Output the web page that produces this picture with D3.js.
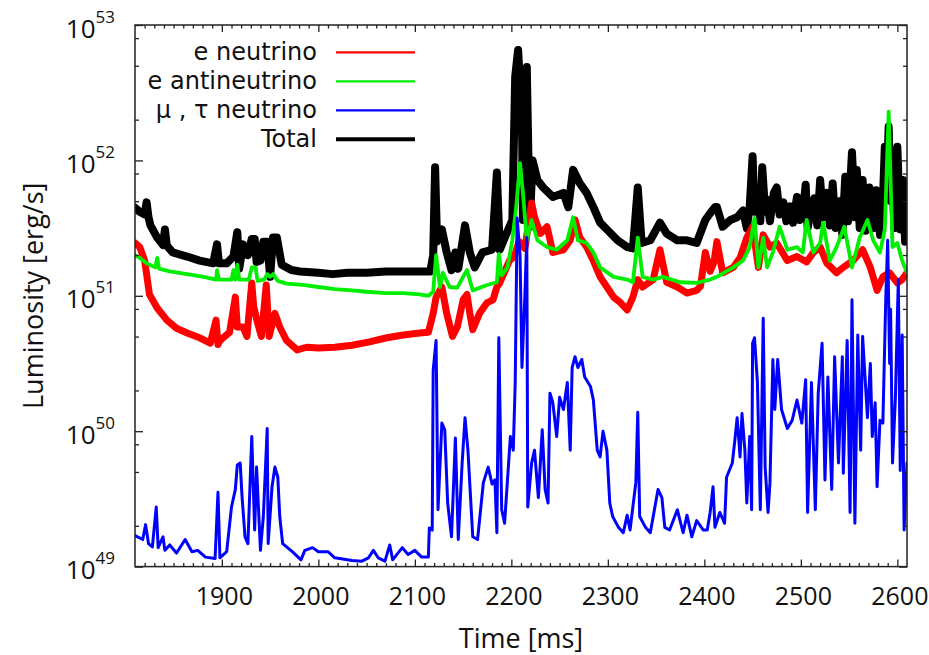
<!DOCTYPE html>
<html>
<head>
<meta charset="utf-8">
<script src="https://cdn.jsdelivr.net/npm/d3@7"></script>
<style>
body{margin:0;background:#fff;}
text{font-family:"Open Sans",sans-serif;fill:#111;}
</style>
</head>
<body>
<div id="canvas"></div>
<script>
// data: [time in ms, log10 of luminosity in erg/s]
var totalPts = [[1810,51.65],[1815,51.62],[1820,51.60],[1822,51.69],[1824,51.58],[1826,51.52],[1833,51.43],[1839,51.375],[1841,51.49],[1843,51.37],[1849,51.32],[1864,51.29],[1877,51.26],[1891,51.24],[1895,51.38],[1897,51.24],[1905,51.24],[1912,51.29],[1916,51.47],[1918,51.20],[1922,51.38],[1927,51.30],[1931,51.42],[1934,51.42],[1936,51.25],[1940,51.26],[1943,51.40],[1947,51.40],[1950,51.14],[1953,51.43],[1957,51.43],[1962,51.23],[1972,51.19],[1981,51.18],[2000,51.17],[2015,51.16],[2030,51.17],[2050,51.17],[2070,51.18],[2085,51.18],[2100,51.18],[2116,51.18],[2119,51.30],[2121,51.95],[2123,51.40],[2128,51.49],[2133,51.32],[2138,51.19],[2142,51.32],[2145,51.20],[2152,51.52],[2157,51.32],[2162,51.21],[2170,51.32],[2180,51.34],[2185,51.91],[2188,51.34],[2195,51.46],[2201,51.56],[2204,52.62],[2207,52.815],[2211,52.30],[2212,51.56],[2216,52.69],[2219,51.51],[2222,52.0],[2227,51.855],[2233,51.80],[2243,51.73],[2254,51.76],[2259,51.655],[2264,51.93],[2271,51.83],[2278,51.76],[2285,51.655],[2292,51.54],[2299,51.49],[2310,51.41],[2320,51.36],[2326,51.35],[2331,51.80],[2335,51.39],[2344,51.41],[2354,51.54],[2361,51.46],[2372,51.41],[2382,51.41],[2392,51.39],[2401,51.56],[2406,51.61],[2411,51.655],[2413,51.655],[2419,51.51],[2427,51.56],[2434,51.58],[2440,51.63],[2444,51.50],[2447,51.66],[2450,52.03],[2452,51.62],[2456,51.78],[2458,51.55],[2460,51.95],[2463,51.62],[2465,51.71],[2468,51.55],[2472,51.76],[2475,51.80],[2478,51.60],[2482,51.69],[2485,51.55],[2489,51.66],[2492,51.54],[2496,51.73],[2499,51.56],[2502,51.61],[2505,51.82],[2507,51.50],[2510,51.61],[2514,51.72],[2517,51.52],[2520,51.855],[2523,51.58],[2527,51.76],[2530,51.52],[2533,51.83],[2536,51.50],[2541,51.70],[2543,51.45],[2546,51.88],[2549,51.55],[2553,52.06],[2556,51.58],[2558,51.93],[2561,51.50],[2564,51.855],[2567,51.48],[2571,51.80],[2575,51.50],[2578,51.78],[2582,51.45],[2585,51.70],[2587,52.10],[2589,51.80],[2591,52.25],[2593,51.70],[2595,51.855],[2597,51.50],[2600,52.10],[2603,51.49],[2606,51.855],[2608,51.40],[2610,51.66]];

var nuePts = [[1810,51.39],[1815,51.36],[1820,51.26],[1825,51.01],[1833,50.91],[1843,50.82],[1853,50.76],[1864,50.725],[1877,50.69],[1888,50.65],[1894,50.82],[1896,50.64],[1898,50.67],[1908,50.73],[1914,50.99],[1916,50.77],[1922,50.77],[1926,50.70],[1931,51.095],[1933,50.92],[1937,50.80],[1941,50.70],[1946,51.08],[1949,50.70],[1955,50.87],[1960,50.77],[1967,50.67],[1978,50.60],[1988,50.62],[2000,50.615],[2017,50.62],[2035,50.635],[2053,50.66],[2071,50.69],[2088,50.71],[2105,50.725],[2114,50.73],[2119,50.87],[2122,50.99],[2128,51.065],[2133,50.87],[2139,50.70],[2144,50.77],[2150,50.97],[2154,51.01],[2157,50.87],[2160,50.75],[2167,50.87],[2175,50.95],[2181,50.97],[2185,51.065],[2188,51.095],[2195,51.21],[2198,51.26],[2203,51.29],[2208,51.40],[2214,51.35],[2221,51.685],[2224,51.58],[2230,51.46],[2237,51.51],[2243,51.32],[2254,51.34],[2261,51.41],[2266,51.56],[2271,51.43],[2278,51.36],[2285,51.26],[2292,51.14],[2299,51.065],[2306,50.99],[2313,50.95],[2320,50.895],[2326,50.99],[2331,51.12],[2336,51.065],[2347,51.12],[2354,51.34],[2361,51.10],[2372,51.065],[2382,51.02],[2392,51.04],[2396,51.07],[2401,51.32],[2406,51.18],[2410,51.25],[2413,51.40],[2419,51.17],[2430,51.21],[2437,51.28],[2444,51.43],[2450,51.51],[2456,51.21],[2461,51.45],[2468,51.36],[2475,51.39],[2486,51.26],[2496,51.29],[2506,51.25],[2513,51.32],[2520,51.36],[2527,51.24],[2537,51.17],[2544,51.21],[2554,51.26],[2564,51.34],[2572,51.21],[2579,51.04],[2585,51.14],[2592,51.17],[2600,51.095],[2605,51.12],[2610,51.17]];

var anuePts = [[1810,51.30],[1815,51.28],[1822,51.24],[1831,51.21],[1833,51.28],[1835,51.20],[1846,51.18],[1864,51.16],[1881,51.14],[1894,51.12],[1895,51.19],[1897,51.12],[1910,51.12],[1912,51.19],[1914,51.12],[1916,51.23],[1918,51.12],[1928,51.12],[1931,51.21],[1935,51.21],[1937,51.11],[1944,51.12],[1947,51.16],[1950,51.14],[1953,51.16],[1958,51.11],[1967,51.09],[1984,51.08],[2000,51.065],[2017,51.05],[2035,51.04],[2050,51.03],[2070,51.02],[2088,51.02],[2105,51.01],[2114,51.0],[2119,51.03],[2122,51.30],[2126,51.065],[2129,51.17],[2136,51.065],[2144,51.06],[2150,51.14],[2154,51.19],[2160,51.04],[2175,51.08],[2185,51.10],[2187,51.31],[2190,51.15],[2196,51.21],[2201,51.41],[2205,51.655],[2209,51.98],[2212,51.76],[2216,51.41],[2221,51.56],[2227,51.41],[2237,51.36],[2247,51.34],[2258,51.41],[2264,51.58],[2269,51.41],[2278,51.39],[2285,51.32],[2292,51.21],[2306,51.14],[2320,51.12],[2326,51.10],[2331,51.43],[2336,51.14],[2347,51.12],[2357,51.14],[2375,51.10],[2392,51.095],[2406,51.12],[2413,51.14],[2430,51.21],[2440,51.26],[2447,51.36],[2452,51.575],[2456,51.21],[2461,51.43],[2465,51.21],[2471,51.32],[2478,51.51],[2486,51.34],[2496,51.36],[2502,51.32],[2506,51.56],[2513,51.32],[2520,51.39],[2523,51.54],[2530,51.26],[2537,51.36],[2545,51.51],[2553,51.21],[2561,51.43],[2569,51.56],[2575,51.41],[2582,51.32],[2587,51.49],[2591,52.36],[2595,51.36],[2600,51.39],[2605,51.26],[2610,51.17]];

var numuPts = [[1810,49.23],[1818,49.20],[1821,49.31],[1824,49.17],[1828,49.145],[1832,49.44],[1834,49.14],[1839,49.22],[1841,49.12],[1846,49.16],[1853,49.10],[1862,49.20],[1869,49.11],[1875,49.12],[1883,49.07],[1893,49.06],[1896,49.55],[1898,49.065],[1905,49.11],[1910,49.44],[1914,49.57],[1916,49.75],[1919,49.765],[1921,49.51],[1924,49.22],[1927,49.17],[1931,49.96],[1934,49.27],[1936,49.735],[1940,49.12],[1943,49.37],[1947,50.02],[1948,49.17],[1952,49.59],[1955,49.735],[1958,49.66],[1960,49.37],[1963,49.17],[1973,49.11],[1982,49.05],[1986,49.12],[1994,49.14],[2000,49.11],[2010,49.11],[2017,49.065],[2035,49.045],[2045,49.04],[2052,49.065],[2057,49.12],[2062,49.065],[2069,49.04],[2074,49.16],[2077,49.05],[2087,49.14],[2093,49.09],[2100,49.12],[2107,49.07],[2114,49.07],[2115,49.285],[2118,49.27],[2119,50.45],[2122,50.67],[2124,49.42],[2128,50.06],[2131,50.01],[2134,49.47],[2138,49.22],[2142,49.95],[2145,49.20],[2149,49.765],[2152,50.10],[2155,49.86],[2160,49.22],[2165,49.20],[2171,49.62],[2176,49.735],[2180,49.61],[2183,49.64],[2185,49.25],[2187,50.69],[2190,49.42],[2193,49.32],[2199,49.96],[2202,49.86],[2204,50.36],[2206,51.575],[2209,51.3],[2211,50.47],[2214,51.0],[2216,51.43],[2217,49.44],[2221,49.765],[2224,49.86],[2228,49.51],[2232,50.01],[2235,49.57],[2238,49.47],[2240,50.28],[2243,50.21],[2247,49.96],[2250,50.25],[2254,50.16],[2258,50.36],[2261,49.86],[2263,50.47],[2266,50.55],[2269,50.47],[2273,50.53],[2276,50.40],[2282,50.33],[2285,50.23],[2289,49.86],[2292,49.81],[2295,50.0],[2299,49.86],[2302,49.47],[2305,49.37],[2311,49.29],[2316,49.25],[2320,49.38],[2323,49.27],[2329,49.62],[2331,50.14],[2333,49.37],[2339,49.29],[2344,49.25],[2347,49.37],[2352,49.57],[2356,49.51],[2359,49.29],[2364,49.27],[2372,49.42],[2378,49.25],[2382,49.38],[2387,49.22],[2392,49.34],[2399,49.27],[2403,49.27],[2406,49.40],[2409,49.59],[2411,49.29],[2416,49.40],[2421,49.32],[2423,49.66],[2429,49.765],[2432,49.96],[2434,50.10],[2437,49.81],[2439,50.13],[2442,49.86],[2444,49.47],[2447,49.96],[2449,49.42],[2450,50.65],[2452,50.69],[2455,50.36],[2458,49.42],[2461,50.835],[2463,49.735],[2466,49.40],[2468,49.62],[2471,50.53],[2473,50.16],[2476,50.53],[2480,50.16],[2486,50.02],[2491,50.08],[2496,50.23],[2501,50.06],[2505,50.38],[2507,49.40],[2511,50.36],[2515,49.42],[2518,50.28],[2522,50.65],[2525,49.64],[2528,50.40],[2532,49.57],[2535,50.55],[2539,49.765],[2543,50.55],[2544,49.69],[2548,50.67],[2551,49.40],[2553,50.97],[2556,49.32],[2559,50.71],[2562,49.86],[2564,50.70],[2569,50.10],[2572,50.50],[2574,49.96],[2577,50.21],[2579,49.59],[2582,50.08],[2585,50.06],[2588,50.98],[2590,51.41],[2592,50.5],[2593,50.9],[2595,49.765],[2598,50.25],[2601,51.12],[2603,49.71],[2605,50.71],[2607,49.27],[2610,49.765]];

var seriesNames = ['e neutrino', 'e antineutrino', '\u03bc , \u03c4 neutrino', 'Total'];
var seriesColors = ['#ff0000', '#00ee00', '#0000ff', '#000000'];
var xTicks = [1900, 2000, 2100, 2200, 2300, 2400, 2500, 2600];
var yTicks = [49, 50, 51, 52, 53];

//margin convention
var W = 929, H = 655;
var m = {t:25, r:22, b:88.4, l:135};
var w = W - m.l - m.r,
    h = H - m.t - m.b;

var svg = d3.select('#canvas')
    .append('svg')
    .attr('width', W)
    .attr('height', H);

var plot = svg.append('g')
    .attr('transform', 'translate(' + m.l + ',' + m.t + ')');

var scaleX = d3.scaleLinear().domain([1810, 2610]).range([0, w]);
var scaleY = d3.scaleLog().domain([1e49, 1e53]).range([h, 0]);

plot.append('clipPath').attr('id', 'clip')
  .append('rect').attr('width', w).attr('height', h);

var line = d3.line()
  .x(function(d){ return scaleX(d[0]); })
  .y(function(d){ return scaleY(Math.pow(10, d[1])); });

//draw order: total at the back, mu/tau on top
var layers = [
  {pts: totalPts, color: seriesColors[3], width: 8},
  {pts: nuePts, color: seriesColors[0], width: 7},
  {pts: anuePts, color: seriesColors[1], width: 3.8},
  {pts: numuPts, color: seriesColors[2], width: 3}
];

plot.append('g').attr('clip-path', 'url(#clip)')
  .selectAll('path')
  .data(layers)
  .enter()
  .append('path')
  .attr('d', function(d){ return line(d.pts); })
  .attr('fill', 'none')
  .attr('stroke', function(d){ return d.color; })
  .attr('stroke-width', function(d){ return d.width; })
  .attr('stroke-linejoin', 'round')
  .attr('stroke-linecap', 'round');

//minor tick values
var xMinor = d3.range(1820, 2610, 10).filter(function(v){ return v % 100 !== 0; });
var yMinor = [];
yTicks.slice(0, -1).forEach(function(e){
  [2, 5, 8].forEach(function(k){ yMinor.push(k * Math.pow(10, e)); });
});
var yMajor = yTicks.map(function(e){ return Math.pow(10, e); });

function noDomain(g){ g.select('.domain').remove(); g.selectAll('line').attr('stroke', '#222').attr('stroke-width', 1.3); }

//bottom axis
var axisX = d3.axisBottom(scaleX).tickValues(xTicks).tickSize(-7).tickPadding(21).tickFormat(d3.format('d'));
var gx = plot.append('g').attr('transform', 'translate(0,' + h + ')').call(axisX).call(noDomain);
gx.selectAll('text').attr('font-size', 25).attr('font-family', '"Open Sans",sans-serif').attr('fill', '#111').attr('dx', 2);
plot.append('g').attr('transform', 'translate(0,' + h + ')')
  .call(d3.axisBottom(scaleX).tickValues(xMinor).tickSize(-3.5).tickFormat('')).call(noDomain);

//top axis
plot.append('g').call(d3.axisTop(scaleX).tickValues(xTicks).tickSize(-7).tickFormat('')).call(noDomain);
plot.append('g').call(d3.axisTop(scaleX).tickValues(xMinor).tickSize(-3.5).tickFormat('')).call(noDomain);

//left axis
var gy = plot.append('g').call(d3.axisLeft(scaleY).tickValues(yMajor).tickSize(-8).tickFormat('')).call(noDomain);
plot.append('g').call(d3.axisLeft(scaleY).tickValues(yMinor).tickSize(-4).tickFormat('')).call(noDomain);
gy.selectAll('.tick').each(function(d){
  var t = d3.select(this).append('text')
    .attr('x', -20).attr('y', 12)
    .attr('text-anchor', 'end')
    .attr('font-size', 26);
  t.append('tspan').text('10');
  t.append('tspan').attr('dy', -15).attr('font-size', 17).text(Math.round(Math.log10(d)));
});

//right axis
plot.append('g').attr('transform', 'translate(' + w + ',0)')
  .call(d3.axisRight(scaleY).tickValues(yMajor).tickSize(-8).tickFormat('')).call(noDomain);
plot.append('g').attr('transform', 'translate(' + w + ',0)')
  .call(d3.axisRight(scaleY).tickValues(yMinor).tickSize(-4).tickFormat('')).call(noDomain);

//frame
plot.append('rect')
  .attr('width', w).attr('height', h)
  .attr('fill', 'none').attr('stroke', '#222').attr('stroke-width', 1.5);

//axis titles
svg.append('text')
  .attr('x', m.l + w / 2).attr('y', 648)
  .attr('text-anchor', 'middle')
  .attr('font-size', 27)
  .text('Time [ms]');

svg.append('text')
  .attr('transform', 'translate(43,' + (m.t + h / 2) + ') rotate(-90)')
  .attr('text-anchor', 'middle')
  .attr('font-size', 27)
  .text('Luminosity [erg/s]');

//legend
var legend = plot.selectAll('.legend')
  .data(seriesNames)
  .enter()
  .append('g')
  .attr('class', 'legend')
  .attr('transform', function(d, i){ return 'translate(0,' + (27.3 + i * 29) + ')'; });

legend.append('rect')
  .attr('x', 30).attr('y', -13).attr('width', 255).attr('height', 26)
  .attr('fill', '#fff');

legend.append('text')
  .attr('x', 182).attr('y', 8)
  .attr('text-anchor', 'end')
  .attr('font-size', 24)
  .style('font-family', '"DejaVu Sans",sans-serif')
  .text(function(d){ return d; });

legend.append('line')
  .attr('x1', 201).attr('x2', 280)
  .attr('stroke', function(d, i){ return seriesColors[i]; })
  .attr('stroke-width', function(d, i){ return i === 3 ? 4 : 2.2; });
</script>
</body>
</html>
